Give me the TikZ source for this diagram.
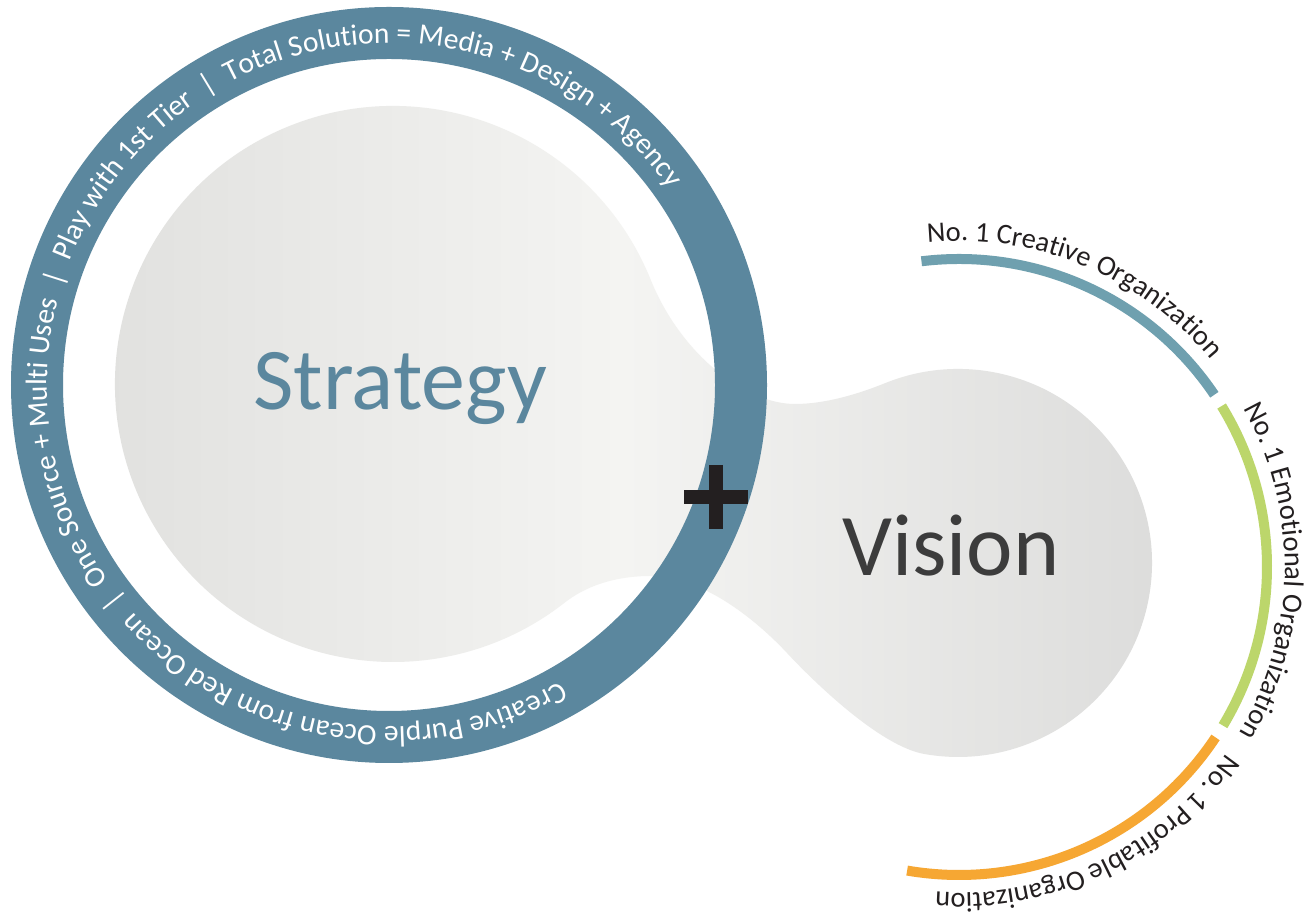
\documentclass[tikz,border=0pt]{standalone}
\usepackage{fontspec}
\setmainfont{Carlito}
\usetikzlibrary{calc,decorations.text}

\definecolor{ringblue}{RGB}{91,135,158}
\definecolor{goalblue}{RGB}{111,160,175}
\definecolor{goalgreen}{RGB}{188,214,107}
\definecolor{goalorange}{RGB}{246,167,51}
\definecolor{visiongray}{RGB}{60,60,60}
\definecolor{plusblack}{RGB}{35,31,32}
\definecolor{labelblack}{RGB}{35,31,32}
\definecolor{blobleft}{RGB}{224,224,222}
\definecolor{blobmid}{RGB}{244,244,242}
\definecolor{blobright}{RGB}{220,220,219}

\begin{document}
\begin{tikzpicture}[x=1pt, y=1pt,
    ringband/.style ={draw=ringblue, line width=52pt},
    goalarc/.style ={line width=10pt},
    plussign/.style ={draw=plusblack, line width=14pt},
    blobshade/.style ={left color=blobleft, right color=blobright, middle color=blobmid},
    bigword/.style ={font=\fontsize{88}{90}\selectfont, anchor=base},
    ringtext/.style ={decorate, decoration={text along path, text align=center, text color=white}},
    goaltext/.style ={decorate, decoration={text along path, text align=center, text color=labelblack}}]

   \useasboundingbox[fill=white] (0,0) rectangle (1308,917);

   \coordinate (ringc) at (389,532);
   \coordinate (bigc) at (393,533);
   \coordinate (smallc) at (958,354);
   \coordinate (goalc) at (959,350);

   \shade[blobshade] ($(bigc)+(22:278)$) arc[start angle=22, end angle=308, radius=278]
      .. controls (591.6,335.6) and (625,341) .. (650,341)
      .. controls (705,341) and (760,293) .. (787,264)
      .. controls (814,235) and (880,170.8) .. (924.3,163)
      arc[start angle=-100, end angle=112, radius=194]
      .. controls (857.5,522.7) and (825,513) .. (795,513)
      .. controls (745,513) and (680.8,562.9) .. cycle;

   \draw[ringband] (ringc) circle[radius=352];

   \node[bigword, text=ringblue] (strategy) at (400,507) {Strategy};
   \node[bigword, text=visiongray] (vision) at (951,341) {Vision};

   \draw[plussign] (684,420) -- (748,420);
   \draw[plussign] (716,452) -- (716,388);

   \path[ringtext, decoration={text={|\fontsize{29.5}{30}\selectfont|Creative Purple Ocean from Red Ocean{\kern.45em\textbar\kern.45em}One Source + Multi Uses{\kern.45em\textbar\kern.45em}Play with 1st Tier{\kern.45em\textbar\kern.45em}Total Solution = Media + Design + Agency}}]
      ($(ringc)+(-52.5:342)$) arc[start angle=-52.5, end angle=-332.5, radius=342];

   \draw[goalarc, goalblue] ($(goalc)+(97:308)$) arc[start angle=97, end angle=34, radius=308];
   \draw[goalarc, goalgreen] ($(goalc)+(31.5:308)$) arc[start angle=31.5, end angle=-31, radius=308];
   \draw[goalarc, goalorange] ($(goalc)+(-33.6:308)$) arc[start angle=-33.6, end angle=-99.7, radius=308];

   \path[goaltext, decoration={text={|\fontsize{28.5}{29}\selectfont|No. 1 Creative Organization}}]
      ($(goalc)+(102.5:326)$) arc[start angle=102.5, end angle=32.5, radius=326];
   \path[goaltext, decoration={text={|\fontsize{28.5}{29}\selectfont|No. 1 Emotional Organization}}]
      ($(goalc)+(34.2:326)$) arc[start angle=34.2, end angle=-35.8, radius=326];
   \path[goaltext, decoration={text={|\fontsize{28.5}{29}\selectfont|No. 1 Profitable Organization}}]
      ($(goalc)+(-29.5:326)$) arc[start angle=-29.5, end angle=-99.5, radius=326];

\end{tikzpicture}
\end{document}
